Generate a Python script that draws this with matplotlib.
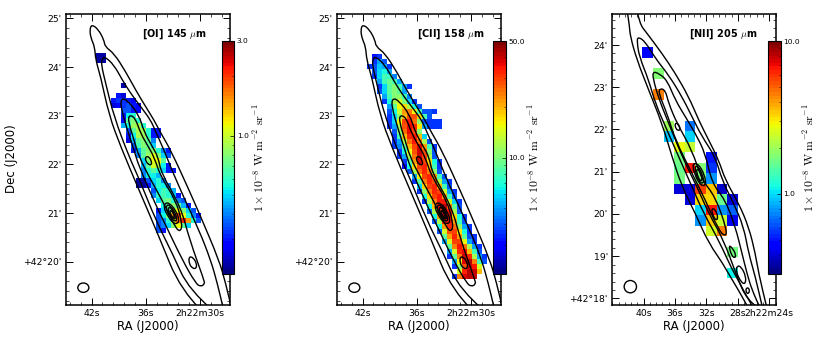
import matplotlib
matplotlib.use("Agg")
import matplotlib.pyplot as plt
from matplotlib.colors import LogNorm
from matplotlib.patches import Ellipse, PathPatch
from matplotlib.path import Path
import numpy as np

plt.rcParams['mathtext.fontset'] = 'cm'
W, H = 822, 343

# ---------- digitised sky data: sky offsets (1/3 px units) ----------
# maps: rows of (first column, [surface brightness in 1e-8 W m-2 sr-1])
oi_rows = {
 165: (0, [.22, .22]), 180: (0, [.22, .22]),
 255: (5, [.22]),
 285: (4, [.3, .25]),
 300: (3, [.3, .32, .32, .3, .28]),
 315: (3, [.25, .28, .32, .35, .3, .28]),
 330: (5, [.35, .35, .3, .28]),
 345: (5, [.3, .55, .6]),
 360: (5, [.28, .7, .8, .6]),
 375: (5, [.45, .55, .85, .9, .6]),
 390: (6, [.35, .7, .9, .85, .6, .3, .3]),
 405: (6, [.3, .55, .9, .85, .6, .3, .3]),
 420: (6, [.25, .45, .7, .8, .7, .4]),
 435: (7, [.35, .65, .8, .7, .5]),
 450: (7, [.3, .45, .7, .8, .8, .6, .4, .3]),
 465: (8, [.4, .7, .85, 1.05, .8, .5, .35]),
 480: (9, [.5, .8, 1.1, 1.1, .7]),
 495: (9, [.45, .7, 1.0, .9, .55, .3]),
 510: (9, [.4, .6, .7, .6, .5, .3, .3]),
 525: (9, [.4, .55, .55, .45]),
 540: (8, [.22, .22, .35, .5, .6, .4]),
 555: (8, [.22, .22, .3, .45, .6, .55, .4]),
 570: (11, [.35, .55, .65, .6, .45]),
 585: (11, [.4, .6, .65, .6, .5, .3]),
 600: (12, [.5, .7, .75, .6, .4, .35]),
 615: (13, [.55, .7, .8, .7, .45, .3]),
 630: (12, [.3, .5, .7, .9, 1.1, .8, .5, .35]),
 645: (12, [.35, .55, .8, 1.5, 1.9, 1.1, .6, .4, .3]),
 660: (12, [.35, .4, .6, 1.0, 1.7, 2.1, 1.5, .6, .35]),
 675: (12, [.35, .4, .5, .8, 1.1, .7, .5]),
 690: (12, [.35, .3]),
}
cii_rows = {
 170: (1, [3.2, 3.5]),
 185: (1, [3.5, 5, 4]),
 200: (0, [3.5, 4, 5.5, 5, 3.5]),
 215: (1, [4, 6, 7, 5]),
 230: (1, [3.5, 6, 8, 7.5, 4.5]),
 245: (2, [5, 8, 9.5, 8, 5]),
 260: (2, [3.5, 6, 9, 10, 8, 5, 3.5]),
 275: (2, [4, 6, 9, 10.5, 9, 5]),
 290: (3, [5, 8, 10.5, 11, 8, 4.5]),
 305: (3, [3.5, 7, 12, 14, 10, 6, 3.5]),
 320: (4, [5, 9, 16, 18, 12, 7, 4]),
 335: (4, [4, 7, 13, 22, 24, 16, 8, 4, 4, 3.5]),
 350: (4, [3.5, 6, 11, 20, 28, 28, 18, 8, 4]),
 365: (4, [3.5, 6, 16, 30, 35, 26, 11, 4, 3.5, 3.5, 3.5]),
 380: (4, [3.5, 5, 12, 28, 36, 32, 17, 5, 3.5, 3.5, 3.5]),
 395: (5, [4, 11, 26, 36, 30, 10]),
 410: (5, [3.5, 8, 20, 32, 34, 20, 6]),
 425: (5, [3.5, 5, 12, 25, 34, 26, 12, 4]),
 440: (5, [3.5, 4.5, 9, 20, 30, 38, 22, 8, 3.5]),
 455: (6, [3.5, 7, 15, 28, 40, 28, 10, 4]),
 470: (6, [3.5, 5, 12, 25, 40, 30, 12, 4]),
 485: (7, [3.5, 9, 22, 38, 30, 18, 7, 3.5]),
 500: (7, [3, 7, 18, 30, 32, 20, 8, 3.5]),
 515: (8, [4, 12, 25, 32, 24, 11, 4]),
 530: (9, [5, 16, 30, 32, 22, 8, 4]),
 545: (9, [3.5, 9, 24, 32, 28, 12, 5, 3.5]),
 560: (10, [6, 18, 30, 32, 20, 8, 4]),
 575: (10, [3.5, 11, 24, 32, 30, 14, 5, 3.5]),
 590: (11, [7, 18, 30, 34, 22, 8, 4]),
 605: (11, [3.5, 12, 24, 35, 34, 14, 6, 3.5]),
 620: (12, [7, 20, 34, 42, 25, 9, 4]),
 635: (12, [4, 12, 30, 44, 34, 12, 4]),
 650: (13, [7, 22, 42, 38, 18, 7, 3.5]),
 665: (13, [4, 12, 32, 34, 22, 8, 4]),
 680: (14, [7, 22, 32, 26, 11, 5, 3.5]),
 695: (14, [4, 14, 28, 30, 17, 7, 3.5]),
 710: (15, [9, 22, 32, 22, 9, 4, 3.5]),
 725: (15, [5, 14, 30, 30, 15, 5, 3.5]),
 740: (16, [9, 24, 34, 26, 12, 5, 3.5]),
 755: (16, [5, 14, 32, 36, 20, 8, 4]),
 770: (16, [3.5, 9, 24, 40, 32, 12, 5, 3.5]),
 785: (17, [5, 16, 38, 42, 24, 8, 4]),
 800: (17, [3.5, 10, 28, 40, 34, 14]),
 815: (18, [14, 32, 42, 40, 20]),
 830: (17, [3.5, 24, 38, 42, 40]),
}
nii_cells = [  # (column, row, value)
 (0, 0, .45), (1, 2, 1.8), (1, 4, 4.5),
 (2, 7, 2.0), (4, 7, .7), (2, 8, .9), (4, 8, 1.0),
 (3, 9, 2.7), (4, 9, 2.4), (3, 10, 1.7), (6, 10, .5),
 (3, 11, 1.6), (4, 11, 6.5), (5, 11, 1.8), (6, 11, .55),
 (3, 12, 1.7), (5, 12, 1.8), (6, 12, .8),
 (3, 13, .4), (4, 13, .4), (5, 13, 5.5), (6, 13, 3.5), (7, 13, .38),
 (4, 14, .4), (5, 14, 3.3), (6, 14, 3.2), (7, 14, 1.6), (8, 14, .4),
 (5, 15, 1.0), (6, 15, 6.5), (7, 15, .8), (8, 15, .65),
 (5, 16, .8), (6, 16, 3.5), (7, 16, 2.4), (8, 16, .42),
 (6, 17, 2.5), (7, 17, 4.5),
 (8, 19, 1.7), (8, 21, 1.1),
]

# contours, panel 1/2 offsets
c1 = [(610,935),(545,870),(480,710),(420,570),(365,440),(330,345),(305,230),(290,180),(287,140),(276,115),(272,90),(278,73),(298,88),(315,120),(318,140),(345,160),(380,215),(410,270),(440,320),(465,360),(483,395),(515,450),(570,570),(605,650),(660,780),(680,850),(700,935)]
c2 = [(645,935),(570,870),(520,760),(470,660),(420,535),(390,470),(345,350),(320,250),(307,195),(309,176),(318,170),(345,195),(370,240),(395,280),(425,320),(455,360),(470,395),(495,450),(535,550),(600,690),(635,780),(655,850),(675,935)]
c3 = [(367,295),(385,300),(420,345),(435,395),(460,440),(477,470),(487,520),(545,620),(572,720),(615,840),(617,852),(605,860),(590,850),(550,780),(495,665),(475,625),(420,500),(405,450),(385,390),(365,320),(367,295)]
c4 = [(390,345),(408,352),(425,400),(445,435),(465,470),(485,530),(530,600),(550,670),(545,695),(530,685),(500,620),(450,530),(420,470),(405,420),(388,365),(390,345)]
c5 = [(440,470),(450,470),(458,485),(457,495),(447,493),(439,480),(440,470)]
c6 = [(570,770),(582,772),(593,790),(592,806),(580,805),(570,790),(570,770)]
p1 = [(497,610),(510,608),(530,630),(541,660),(535,672),(520,668),(505,645),(495,625),(497,610)]
p2 = [(503,615),(512,615),(527,635),(534,658),(530,664),(520,660),(508,642),(502,627),(503,615)]
p3 = [(508,622),(515,622),(525,640),(530,655),(525,658),(517,652),(509,638),(508,622)]
p4 = [(512,632),(518,632),(525,645),(526,654),(521,652),(514,642),(512,632)]
contours_a = [c1, c2, c3, c4, c5, c6, p1, p2, p3, p4]

# contours, panel 3 offsets
n1 = [(590,925),(520,800),(470,730),(430,640),(390,560),(360,470),(330,370),(290,270),(255,180),(235,110),(232,75),(225,30)]
n1b = [(255,30),(262,70),(285,100),(330,160),(370,220),(410,290),(440,360),(470,420),(500,480),(520,540),(560,610),(590,680),(610,760),(620,820),(645,925)]
n2 = [(605,925),(550,830),(500,720),(455,640),(420,560),(380,470),(345,390),(310,310),(290,240),(262,170),(255,125),(258,110),(280,125),(310,175),(350,225),(390,290),(420,350),(450,410),(490,470),(510,540),(545,610),(575,680),(590,760),(610,830),(632,925)]
n3 = [(620,925),(585,900),(555,830),(515,720),(470,640),(435,560),(395,480),(350,370),(320,295),(303,235),(303,215),(320,220),(345,240),(370,300),(400,350),(430,400),(460,460),(480,550),(520,600),(550,680),(570,760),(585,820),(600,870),(625,925)]
n4 = [(323,265),(340,270),(350,310),(375,370),(420,450),(450,540),(490,590),(525,690),(520,710),(500,690),(460,600),(420,520),(370,420),(345,340),(320,280),(323,265)]
n5 = [(368,370),(378,370),(385,385),(382,392),(372,388),(368,370)]
n6 = [(555,797),(568,800),(582,830),(580,852),(568,848),(552,815),(555,797)]
n7 = [(582,865),(590,863),(593,875),(587,882),(582,875),(582,865)]
n8 = [(530,735),(542,745),(552,765),(548,775),(538,765),(530,735)]
n9 = [(478,625),(490,628),(498,650),(494,662),(484,650),(478,625)]
np1 = [(420,490),(440,492),(458,525),(462,555),(448,558),(430,530),(420,490)]
np2 = [(428,498),(440,500),(452,525),(456,548),(446,550),(433,528),(428,498)]
np3 = [(433,508),(441,508),(449,528),(450,542),(444,542),(436,525),(433,508)]
contours_b = [n1, n1b, n2, n3, n4, n5, n6, n7, n8, n9, np1, np2, np3]

# tick labels
xt1, xl1 = [42, 36, 30], ['42s', '36s', '2h22m30s']
yt1 = [25, 24, 23, 22, 21, 20]
yl1 = ["25'", "24'", "23'", "22'", "21'", "+42°20'"]
xt3, xl3 = [40, 36, 32, 28, 24], ['40s', '36s', '32s', '28s', '2h22m24s']
yt3 = [24, 23, 22, 21, 20, 19, 18]
yl3 = ["24'", "23'", "22'", "21'", "20'", "19'", "+42°18'"]

jet = plt.get_cmap('jet', 64)
fig = plt.figure(figsize=(W / 100, H / 100), dpi=100)

def add_px(l, t, r, b):
    return fig.add_axes([l / W, 1 - b / H, (r - l) / W, (b - t) / H])

def smooth_line(ax, xs, ys):
    """Draw a digitised contour as a rounded path through its vertices."""
    p = np.column_stack([xs, ys])
    closed = np.allclose(p[0], p[-1])
    if closed:
        q = p[:-1]
        start = (q[-1] + q[0]) / 2
        verts, codes = [start], [Path.MOVETO]
        for i in range(len(q)):
            verts += [q[i], (q[i] + q[(i + 1) % len(q)]) / 2]
            codes += [Path.CURVE3, Path.CURVE3]
    else:
        verts, codes = [p[0]], [Path.MOVETO]
        for i in range(1, len(p) - 1):
            verts += [p[i], (p[i] + p[i + 1]) / 2]
            codes += [Path.CURVE3, Path.CURVE3]
        verts.append(p[-1]); codes.append(Path.LINETO)
    ax.add_patch(PathPatch(Path(verts, codes), fc='none', ec='k', lw=1.0))

def style(ax, xt, xl, yt, yl, xminor, yminor):
    ax.set_xticks(xt); ax.set_xticklabels(xl, fontsize=6.7)
    ax.set_yticks(yt); ax.set_yticklabels(yl, fontsize=6.7)
    ax.set_xticks(xminor, minor=True); ax.set_yticks(yminor, minor=True)
    ax.tick_params(which='major', direction='in', top=True, right=True, length=5, width=.7, pad=3)
    ax.tick_params(which='minor', direction='in', top=True, right=True, length=2.5, width=.5)
    for s in ax.spines.values():
        s.set_linewidth(1.1)
    ax.set_xlabel('RA (J2000)', fontsize=8.5, labelpad=1)

def colorbar(l, r, vmin, vmax, ticks, labels, minor, lx):
    cax = add_px(l, 41, r, 274)
    sm = plt.cm.ScalarMappable(norm=LogNorm(vmin, vmax), cmap=jet)
    cb = fig.colorbar(sm, cax=cax)
    cb.set_ticks(ticks); cb.set_ticklabels(labels)
    cb.ax.set_yticks(minor, minor=True)
    cb.ax.set_yticklabels([''] * len(minor), minor=True)
    cb.ax.tick_params(which='major', direction='in', labelsize=5.4, length=3, width=.5, pad=2)
    cb.ax.tick_params(which='minor', direction='in', length=1.5, width=.4)
    cb.outline.set_linewidth(.8)
    fig.text(lx / W, 1 - 158 / H, r'$1\times10^{-8}\ \mathrm{W\ m^{-2}\ sr^{-1}}$', rotation=90,
             fontsize=8.5, math_fontfamily='cm', va='center', ha='center')

def panel_a(l, r, rows, first_ra_px, vmin, vmax, label, ticks, tlabels, minor, cb_l, cb_r, lx, lab_x, ylabel):
    ax = add_px(l, 13.7, r, 305)
    ra = lambda x: 42 - (np.asarray(x, float) - first_ra_px) / 27.05
    dec = lambda y: 25 - (np.asarray(y, float) - 55) / 146
    norm = LogNorm(vmin, vmax)
    for y, (c0, vals) in rows.items():
        xe = first_ra_px + 12 + 15 * (c0 + np.arange(len(vals) + 1))
        ye = np.array([y - 7.5, y + 7.5])
        ax.pcolormesh(ra(xe), dec(ye), np.array([vals]), cmap=jet, norm=norm, shading='flat', rasterized=True)
    for c in contours_a:
        a = np.array(c, float) - np.array([278 - first_ra_px, 0])
        smooth_line(ax, ra(a[:, 0]), dec(a[:, 1]))
    ax.add_patch(Ellipse((ra(first_ra_px - 25), dec(863)), 33 / 27.05, 28 / 146, angle=0, fc='none', ec='k', lw=1.0))
    style(ax, xt1, xl1, yt1, yl1, 42 - 1.2 * np.arange(-2, 13), 25 - .2 * np.arange(-1, 30))
    off = 810 if l > 270 else 0
    ax.set_xlim(ra(l * 3 - off), ra(r * 3 - off))
    ax.set_ylim(dec(915), dec(41))
    if ylabel:
        ax.set_ylabel('Dec (J2000)', fontsize=8.5)
        ax.yaxis.set_label_coords(-.29, .501)
    ax.text(lab_x, 0.928, label, transform=ax.transAxes, fontsize=7, fontweight='bold', ha='center', va='center',
            math_fontfamily='cm')
    colorbar(cb_l, cb_r, vmin, vmax, ticks, tlabels, minor, lx)

panel_a(65.7, 230, oi_rows, 275, .2, 3, r'[OI] 145 $\mu$m', [1, 3], ['1.0', '3.0'],
        [.3, .4, .5, .6, .7, .8, .9, 2], 221.7, 234, 260, .66, True)
panel_a(336.7, 501, cii_rows, 278, 2, 50, r'[CII] 158 $\mu$m', [10, 50], ['10.0', '50.0'],
        [3, 4, 5, 6, 7, 8, 9, 20, 30, 40], 493, 505.7, 535, .696, False)

# third panel
ax = add_px(612, 13.7, 776.3, 305)
ra3 = lambda x: 40 - (np.asarray(x, float) - 275) / 23.55
dec3 = lambda y: 24 - (np.asarray(y, float) - 135) / 126.7
xedges = 271 + 31.8 * np.arange(10)
yedges = 142 + 31.5 * np.arange(23)
z = np.full((22, 9), np.nan)
for k, j, v in nii_cells:
    z[j, k] = v
ax.pcolormesh(ra3(xedges), dec3(yedges), z, cmap=jet, norm=LogNorm(.3, 10), shading='flat')
for c in contours_b:
    a = np.array(c, float)
    smooth_line(ax, ra3(a[:, 0]), dec3(a[:, 1]))
ax.add_patch(Ellipse((ra3(235), dec3(860)), 37 / 23.55, 37 / 126.7, fc='none', ec='k', lw=1.0))
style(ax, xt3, xl3, yt3, yl3, 40 - .8 * np.arange(-5, 25), 24 - .2 * np.arange(-5, 35))
ax.set_xlim(ra3(180), ra3(673))
ax.set_ylim(dec3(915), dec3(41))
ax.text(.676, .928, r'[NII] 205 $\mu$m', transform=ax.transAxes, fontsize=7, fontweight='bold', ha='center', va='center',
        math_fontfamily='cm')
colorbar(768.3, 780.7, .3, 10, [1, 10], ['1.0', '10.0'], [.4, .5, .6, .7, .8, .9, 2, 3, 4, 5, 6, 7, 8, 9], 810)

fig.savefig('out.png', dpi=100)
